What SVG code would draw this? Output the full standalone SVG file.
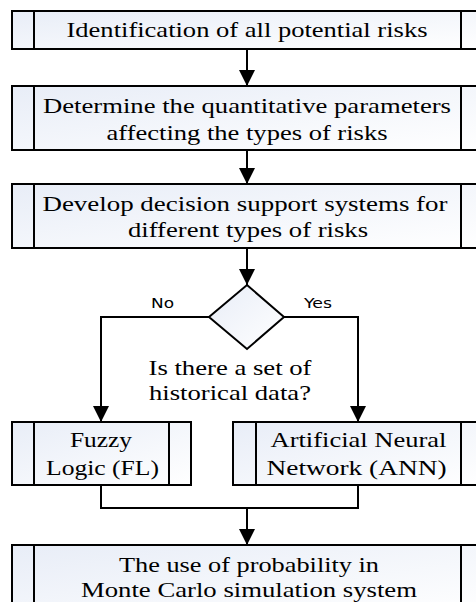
<svg xmlns="http://www.w3.org/2000/svg" width="476" height="602" viewBox="0 0 476 602">
<defs>
<linearGradient id="g" x1="0" y1="0" x2="1" y2="1">
<stop offset="0" stop-color="#e8edf7"/>
<stop offset="1" stop-color="#ffffff"/>
</linearGradient>
<marker id="ah" viewBox="0 0 16 16" markerWidth="16" markerHeight="16" refX="16" refY="8" orient="auto" markerUnits="userSpaceOnUse">
<path d="M0,0 L16,8 L0,16 Z" fill="#000"/>
</marker>
</defs>
<style>
.box{fill:url(#g);stroke:#000;stroke-width:2}
.bar{stroke:#000;stroke-width:2;fill:none}
.t{font-family:"Liberation Serif","Times New Roman",serif;font-size:21px;fill:#000;text-anchor:middle}
.s{font-family:"DejaVu Sans","Open Sans",sans-serif;font-size:14px;fill:#000;text-anchor:middle}
.c{stroke:#000;stroke-width:2;fill:none}
</style>
<g id="n1">
<rect class="box" x="12" y="11" width="472" height="38"/>
<line class="bar" x1="34" y1="11" x2="34" y2="49"/>
<line class="bar" x1="461" y1="11" x2="461" y2="49"/>
<text class="t" x="247" y="37" textLength="361" lengthAdjust="spacingAndGlyphs">Identification of all potential risks</text>
</g>
<g id="n2">
<rect class="box" x="12" y="86" width="472" height="64"/>
<line class="bar" x1="34" y1="86" x2="34" y2="150"/>
<line class="bar" x1="461" y1="86" x2="461" y2="150"/>
<text class="t" x="247" y="113" textLength="408" lengthAdjust="spacingAndGlyphs">Determine the quantitative parameters</text>
<text class="t" x="247" y="140" textLength="281" lengthAdjust="spacingAndGlyphs">affecting the types of risks</text>
</g>
<g id="n3">
<rect class="box" x="12" y="184" width="472" height="64"/>
<line class="bar" x1="34" y1="184" x2="34" y2="248"/>
<line class="bar" x1="461" y1="184" x2="461" y2="248"/>
<text class="t" x="245" y="211" textLength="405" lengthAdjust="spacingAndGlyphs">Develop decision support systems for</text>
<text class="t" x="248" y="237" textLength="240" lengthAdjust="spacingAndGlyphs">different types of risks</text>
</g>
<g id="d1">
<polygon class="box" points="247,285 284,317 247,349 209,317"/>
<text class="t" x="230" y="375" textLength="163" lengthAdjust="spacingAndGlyphs">Is there a set of</text>
<text class="t" x="230" y="400" textLength="162" lengthAdjust="spacingAndGlyphs">historical data?</text>
</g>
<g id="n4">
<rect class="box" x="12" y="422" width="179" height="63"/>
<line class="bar" x1="34" y1="422" x2="34" y2="485"/>
<line class="bar" x1="169" y1="422" x2="169" y2="485"/>
<text class="t" x="101" y="447" textLength="62" lengthAdjust="spacingAndGlyphs">Fuzzy</text>
<text class="t" x="102.5" y="475" textLength="113" lengthAdjust="spacingAndGlyphs">Logic (FL)</text>
</g>
<g id="n5">
<rect class="box" x="233" y="422" width="251" height="63"/>
<line class="bar" x1="256" y1="422" x2="256" y2="485"/>
<line class="bar" x1="461" y1="422" x2="461" y2="485"/>
<text class="t" x="358.5" y="447" textLength="176" lengthAdjust="spacingAndGlyphs">Artificial Neural</text>
<text class="t" x="356.5" y="475" textLength="180" lengthAdjust="spacingAndGlyphs">Network (ANN)</text>
</g>
<g id="n6">
<rect class="box" x="12" y="545" width="472" height="70"/>
<line class="bar" x1="34" y1="545" x2="34" y2="615"/>
<line class="bar" x1="461" y1="545" x2="461" y2="615"/>
<text class="t" x="249" y="572" textLength="260" lengthAdjust="spacingAndGlyphs">The use of probability in</text>
<text class="t" x="249" y="597" textLength="336" lengthAdjust="spacingAndGlyphs">Monte Carlo simulation system</text>
</g>
<g id="connectors">
<line class="c" x1="247" y1="49" x2="247" y2="86" marker-end="url(#ah)"/>
<line class="c" x1="247" y1="150" x2="247" y2="184" marker-end="url(#ah)"/>
<line class="c" x1="247" y1="248" x2="247" y2="285" marker-end="url(#ah)"/>
<polyline class="c" points="209,317 101,317 101,422" marker-end="url(#ah)"/>
<polyline class="c" points="284,317 358,317 358,422" marker-end="url(#ah)"/>
<polyline class="c" points="101,485 101,508 358,508 358,485"/>
<line class="c" x1="247" y1="508" x2="247" y2="545" marker-end="url(#ah)"/>
<text class="s" x="162.5" y="308" textLength="23" lengthAdjust="spacingAndGlyphs">No</text>
<text class="s" x="318" y="308" textLength="28" lengthAdjust="spacingAndGlyphs">Yes</text>
</g>
</svg>
